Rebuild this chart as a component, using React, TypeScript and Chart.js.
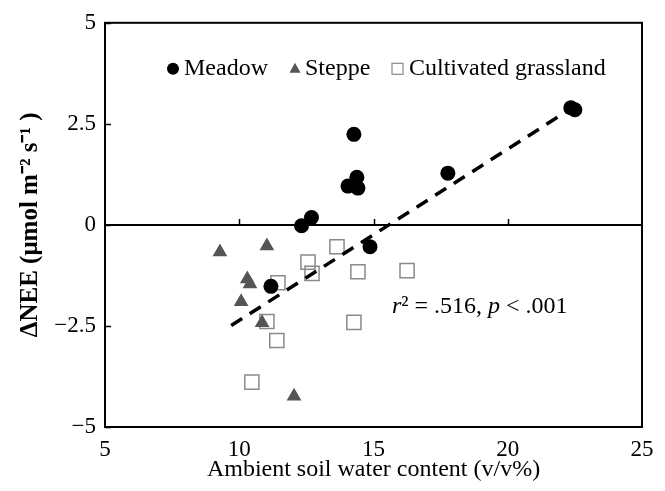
import { useEffect, useRef } from "react";
import { Chart, registerables } from "chart.js";

Chart.register(...registerables);

// ---- data ----
const meadowX = [14.27, 14.38, 14.05, 14.42, 17.77, 22.35, 22.5, 12.69, 12.32, 14.87, 11.18];
const meadowY = [2.24, 1.18, 0.96, 0.91, 1.28, 2.9, 2.85, 0.18, -0.02, -0.54, -1.52];

const steppeX = [9.28, 11.03, 10.3, 10.4, 10.07, 10.85, 12.04];
const steppeY = [-0.67, -0.52, -1.34, -1.46, -1.9, -2.42, -4.24];

const cultX = [13.64, 12.56, 12.71, 14.42, 16.25, 11.44, 11.03, 14.27, 11.4, 10.47];
const cultY = [-0.54, -0.92, -1.2, -1.16, -1.13, -1.43, -2.39, -2.41, -2.86, -3.89];

const fitX = [9.7, 22.2];
const fitY = [-2.49, 2.81];

const xTicks = [5, 10, 15, 20, 25];
const yTicks = [5, 2.5, 0, -2.5, -5];
const innerXTicks = [10, 15, 20];

const legendLabels = ["Meadow", "Steppe", "Cultivated grassland"];
const xTitle = "Ambient soil water content (v/v%)";
const yTitle = "ΔNEE (μmol m⁻² s⁻¹ )";

const FONT = "'Liberation Serif', 'Times New Roman', serif";

const pts = (xs: number[], ys: number[]) => xs.map((x, i) => ({ x, y: ys[i] }));

const fmt = (v: number) => (v < 0 ? "\u2212" + Math.abs(v) : String(v));

const decorPlugin = {
  id: "decor",
  beforeDatasetsDraw(chart: any) {
    const { ctx, chartArea: a, scales } = chart;
    const x = scales.x;
    const y = scales.y;
    ctx.save();
    ctx.strokeStyle = "#000";
    ctx.lineWidth = 2;
    const y0 = y.getPixelForValue(0);
    ctx.beginPath();
    ctx.moveTo(a.left, y0);
    ctx.lineTo(a.right, y0);
    ctx.stroke();
    ctx.lineWidth = 1.5;
    ctx.beginPath();
    innerXTicks.forEach((v) => {
      const px = Math.round(x.getPixelForValue(v)) + 0.5;
      ctx.moveTo(px, y0);
      ctx.lineTo(px, y0 - 6);
    });
    yTicks.forEach((v) => {
      const py = Math.round(y.getPixelForValue(v)) + 0.5;
      ctx.moveTo(a.left, py);
      ctx.lineTo(a.left + 6, py);
    });
    ctx.stroke();
    ctx.restore();
  },
  afterDraw(chart: any) {
    const { ctx, chartArea: a } = chart;
    ctx.save();
    // frame
    ctx.strokeStyle = "#000";
    ctx.lineWidth = 2;
    ctx.strokeRect(a.left, a.top, a.right - a.left, a.bottom - a.top);

    // legend
    const ly = a.top + 46;
    ctx.font = `24px ${FONT}`;
    ctx.textBaseline = "middle";
    ctx.fillStyle = "#000";
    ctx.beginPath();
    ctx.arc(a.left + 68, ly, 6, 0, Math.PI * 2);
    ctx.fill();
    ctx.fillText(legendLabels[0], a.left + 79, ly);
    ctx.fillStyle = "#555";
    const tx = a.left + 190;
    ctx.beginPath();
    ctx.moveTo(tx, ly - 6);
    ctx.lineTo(tx + 5.5, ly + 4);
    ctx.lineTo(tx - 5.5, ly + 4);
    ctx.closePath();
    ctx.fill();
    ctx.fillStyle = "#000";
    ctx.fillText(legendLabels[1], a.left + 200, ly);
    ctx.strokeStyle = "#888";
    ctx.lineWidth = 1.2;
    ctx.strokeRect(a.left + 287, ly - 5.5, 11, 11);
    ctx.fillStyle = "#000";
    ctx.fillText(legendLabels[2], a.left + 304, ly);

    // annotation
    let ax = 392;
    const ay = 313;
    ctx.textBaseline = "alphabetic";
    const parts: [string, boolean][] = [
      ["r", true],
      ["² = .516, ", false],
      ["p", true],
      [" < .001", false],
    ];
    parts.forEach(([t, it]) => {
      ctx.font = `${it ? "italic " : ""}24px ${FONT}`;
      ctx.fillText(t, ax, ay);
      ax += ctx.measureText(t).width;
    });
    ctx.restore();
  },
};

export default function App() {
  const ref = useRef<HTMLCanvasElement | null>(null);

  useEffect(() => {
    if (!ref.current) return;
    const chart = new Chart(ref.current, {
      type: "scatter",
      data: {
        datasets: [
          {
            type: "line",
            label: "fit",
            data: pts(fitX, fitY),
            borderColor: "#000",
            borderWidth: 3.5,
            borderDash: [13, 9],
            pointRadius: 0,
            fill: false,
            order: 0,
          } as any,
          {
            label: legendLabels[0],
            data: pts(meadowX, meadowY),
            pointStyle: "circle",
            pointRadius: 7.5,
            backgroundColor: "#000",
            borderColor: "#000",
            borderWidth: 0,
            order: 1,
          },
          {
            label: legendLabels[1],
            data: pts(steppeX, steppeY),
            pointStyle: "triangle",
            pointRadius: 8.5,
            backgroundColor: "#555",
            borderColor: "#555",
            borderWidth: 0,
            order: 2,
          },
          {
            label: legendLabels[2],
            data: pts(cultX, cultY),
            pointStyle: "rect",
            pointRadius: 10,
            backgroundColor: "rgba(255,255,255,0)",
            borderColor: "#8a8a8a",
            borderWidth: 1.5,
            order: 3,
          },
        ],
      },
      options: {
        animation: false,
        responsive: false,
        maintainAspectRatio: false,
        layout: { padding: { top: 22, right: 23, left: 0, bottom: 0 } },
        plugins: {
          legend: { display: false },
          tooltip: { enabled: false },
        },
        scales: {
          x: {
            type: "linear",
            min: 5,
            max: 25,
            afterBuildTicks: (s: any) => {
              s.ticks = xTicks.map((v) => ({ value: v }));
            },
            afterFit: (s: any) => {
              s.height = 64;
            },
            grid: { display: false, drawTicks: false },
            border: { display: false },
            ticks: {
              padding: 9,
              color: "#000",
              font: { family: FONT, size: 23 },
              maxRotation: 0,
              autoSkip: false,
            },
            title: {
              display: true,
              text: xTitle,
              color: "#000",
              font: { family: FONT, size: 24 },
              padding: { top: 0, bottom: 7 },
            },
          },
          y: {
            type: "linear",
            min: -5,
            max: 5,
            afterBuildTicks: (s: any) => {
              s.ticks = yTicks.map((v) => ({ value: v }));
            },
            afterFit: (s: any) => {
              s.width = 105;
            },
            grid: { display: false, drawTicks: false },
            border: { display: false },
            ticks: {
              padding: 9,
              color: "#000",
              font: { family: FONT, size: 23 },
              callback: (v: any) => fmt(Number(v)),
              autoSkip: false,
            },
            title: {
              display: true,
              text: yTitle,
              color: "#000",
              font: { family: FONT, size: 25, weight: "bold" },
              padding: { top: 16, bottom: 0 },
            },
          },
        },
      },
      plugins: [decorPlugin],
    });
    return () => chart.destroy();
  }, []);

  return (
    <div style={{ position: "fixed", left: 0, top: 0, width: 665, height: 491, background: "#fff" }}>
      <canvas ref={ref} width={665} height={491} style={{ display: "block", width: 665, height: 491 }} />
    </div>
  );
}
